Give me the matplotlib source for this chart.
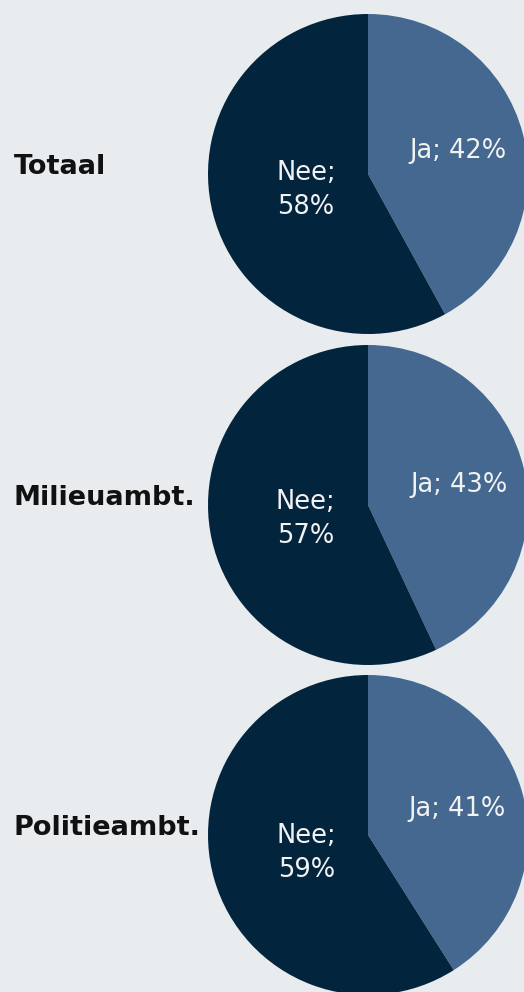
import matplotlib
matplotlib.use("Agg")
import matplotlib.pyplot as plt
import numpy as np

groups = ["Totaal", "Milieuambt.", "Politieambt."]
answers = ["Ja", "Nee"]
ja_pct = [42, 43, 41]
nee_pct = [58, 57, 59]

colors = ["#44688f", "#02243d"]
bg = "#e8ecee"
label_dist = [0.58, 0.40]

W, H = 524, 992
fig = plt.figure(figsize=(W / 100, H / 100), dpi=100, facecolor=bg)

centers_y = [174, 505, 835]
cx, R = 368, 160

for g, cy, ja, nee in zip(groups, centers_y, ja_pct, nee_pct):
    ax = fig.add_axes([(cx - R) / W, 1 - (cy + R) / H, 2 * R / W, 2 * R / H])
    ax.set_facecolor(bg)
    vals = [ja, nee]
    wedges, _ = ax.pie(vals, colors=colors, startangle=90, counterclock=False,
                       radius=1, wedgeprops=dict(linewidth=0))
    ax.set_xlim(-1, 1)
    ax.set_ylim(-1, 1)
    ax.set_aspect("equal")
    ax.axis("off")
    for w, name, v, d in zip(wedges, answers, vals, label_dist):
        ang = np.deg2rad((w.theta1 + w.theta2) / 2)
        txt = f"{name}; {v}%" if name == "Ja" else f"{name};\n{v}%"
        ax.text(d * np.cos(ang), d * np.sin(ang), txt, ha="center", va="center",
                color="#f2f2f2", fontsize=18.5, linespacing=1.4,
                multialignment="center", family="DejaVu Sans")
    fig.text(14 / W, 1 - (cy) / H, g, ha="left", va="baseline",
             fontsize=19.5, fontweight="bold", color="#111111", family="DejaVu Sans")

fig.savefig("out.png", dpi=100, facecolor=bg)
